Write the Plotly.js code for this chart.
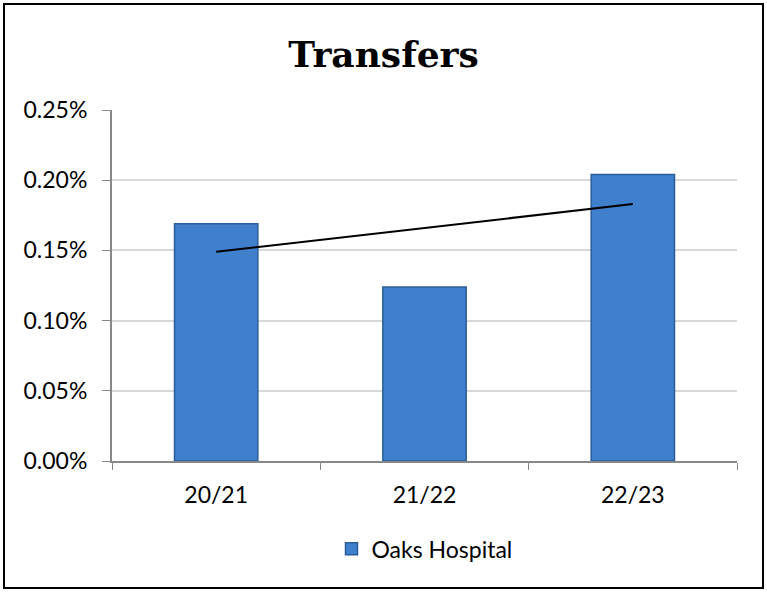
<!DOCTYPE html>
<html>
<head>
<meta charset="utf-8">
<script src="https://cdn.plot.ly/plotly-3.0.1.min.js"></script>
<style>
  body { margin: 0; background: #fff; }
  #frame { position: absolute; left: 3px; top: 3px; width: 761px; height: 586px; box-sizing: border-box; border: 2px solid #000; }
  #chart { width: 757px; height: 582px; }
</style>
</head>
<body>
<div id="frame"><div id="chart"></div></div>
<script>
// values (percent as fraction)
var years = ["20/21", "21/22", "22/23"];
var transfers = [0.00169, 0.00124, 0.00204];
var trendYears = ["20/21", "22/23"];
var trendValues = [0.00149, 0.00183];
var yTicks = [0, 0.0005, 0.001, 0.0015, 0.002, 0.0025];

var barTrace = {
    type: "bar",
    x: years,
    y: transfers,
    width: 0.4,
    name: "Oaks Hospital",
    marker: {
        color: "#3f7fcc",
        line: { color: "#2b5d9a", width: 1.5 },
    },
};

var trendTrace = {
    type: "scatter",
    mode: "lines",
    x: trendYears,
    y: trendValues,
    line: { color: "#000", width: 2 },
    showlegend: false,
    hoverinfo: "skip",
};

var axisFont = { family: "Lato, 'Open Sans', sans-serif", size: 23, color: "#000" };

var layout = {
    title: {
        text: "<b>Transfers</b>",
        font: { family: "'DejaVu Serif', 'Liberation Serif', serif", size: 36, color: "#000" },
        x: 0.5,
        xanchor: "center",
        y: 0.915,
        yanchor: "middle",
    },
    xaxis: {
        type: "category",
        tickson: "boundaries",
        ticks: "outside",
        ticklen: 7,
        tickcolor: "#888",
        showline: true,
        linecolor: "#888",
        linewidth: 2,
        showgrid: false,
        tickfont: axisFont,
        ticklabelstandoff: 12,
    },
    yaxis: {
        range: [0, 0.0025],
        tickvals: yTicks,
        tickformat: ".2%",
        ticks: "outside",
        ticklen: 8,
        tickcolor: "#888",
        showline: true,
        linecolor: "#888",
        linewidth: 2,
        gridcolor: "#d9d9d9",
        gridwidth: 1.5,
        zeroline: false,
        tickfont: axisFont,
        ticklabelstandoff: 10,
    },
    legend: {
        orientation: "h",
        x: 0.5,
        xanchor: "center",
        y: -0.25,
        yanchor: "middle",
        font: axisFont,
    },
    showlegend: true,
    margin: { l: 107, r: 25, t: 105, b: 126, pad: 0 },
    plot_bgcolor: "#fff",
    paper_bgcolor: "#fff",
};

Plotly.newPlot("chart", [barTrace, trendTrace], layout, { displayModeBar: false });
</script>
</body>
</html>
